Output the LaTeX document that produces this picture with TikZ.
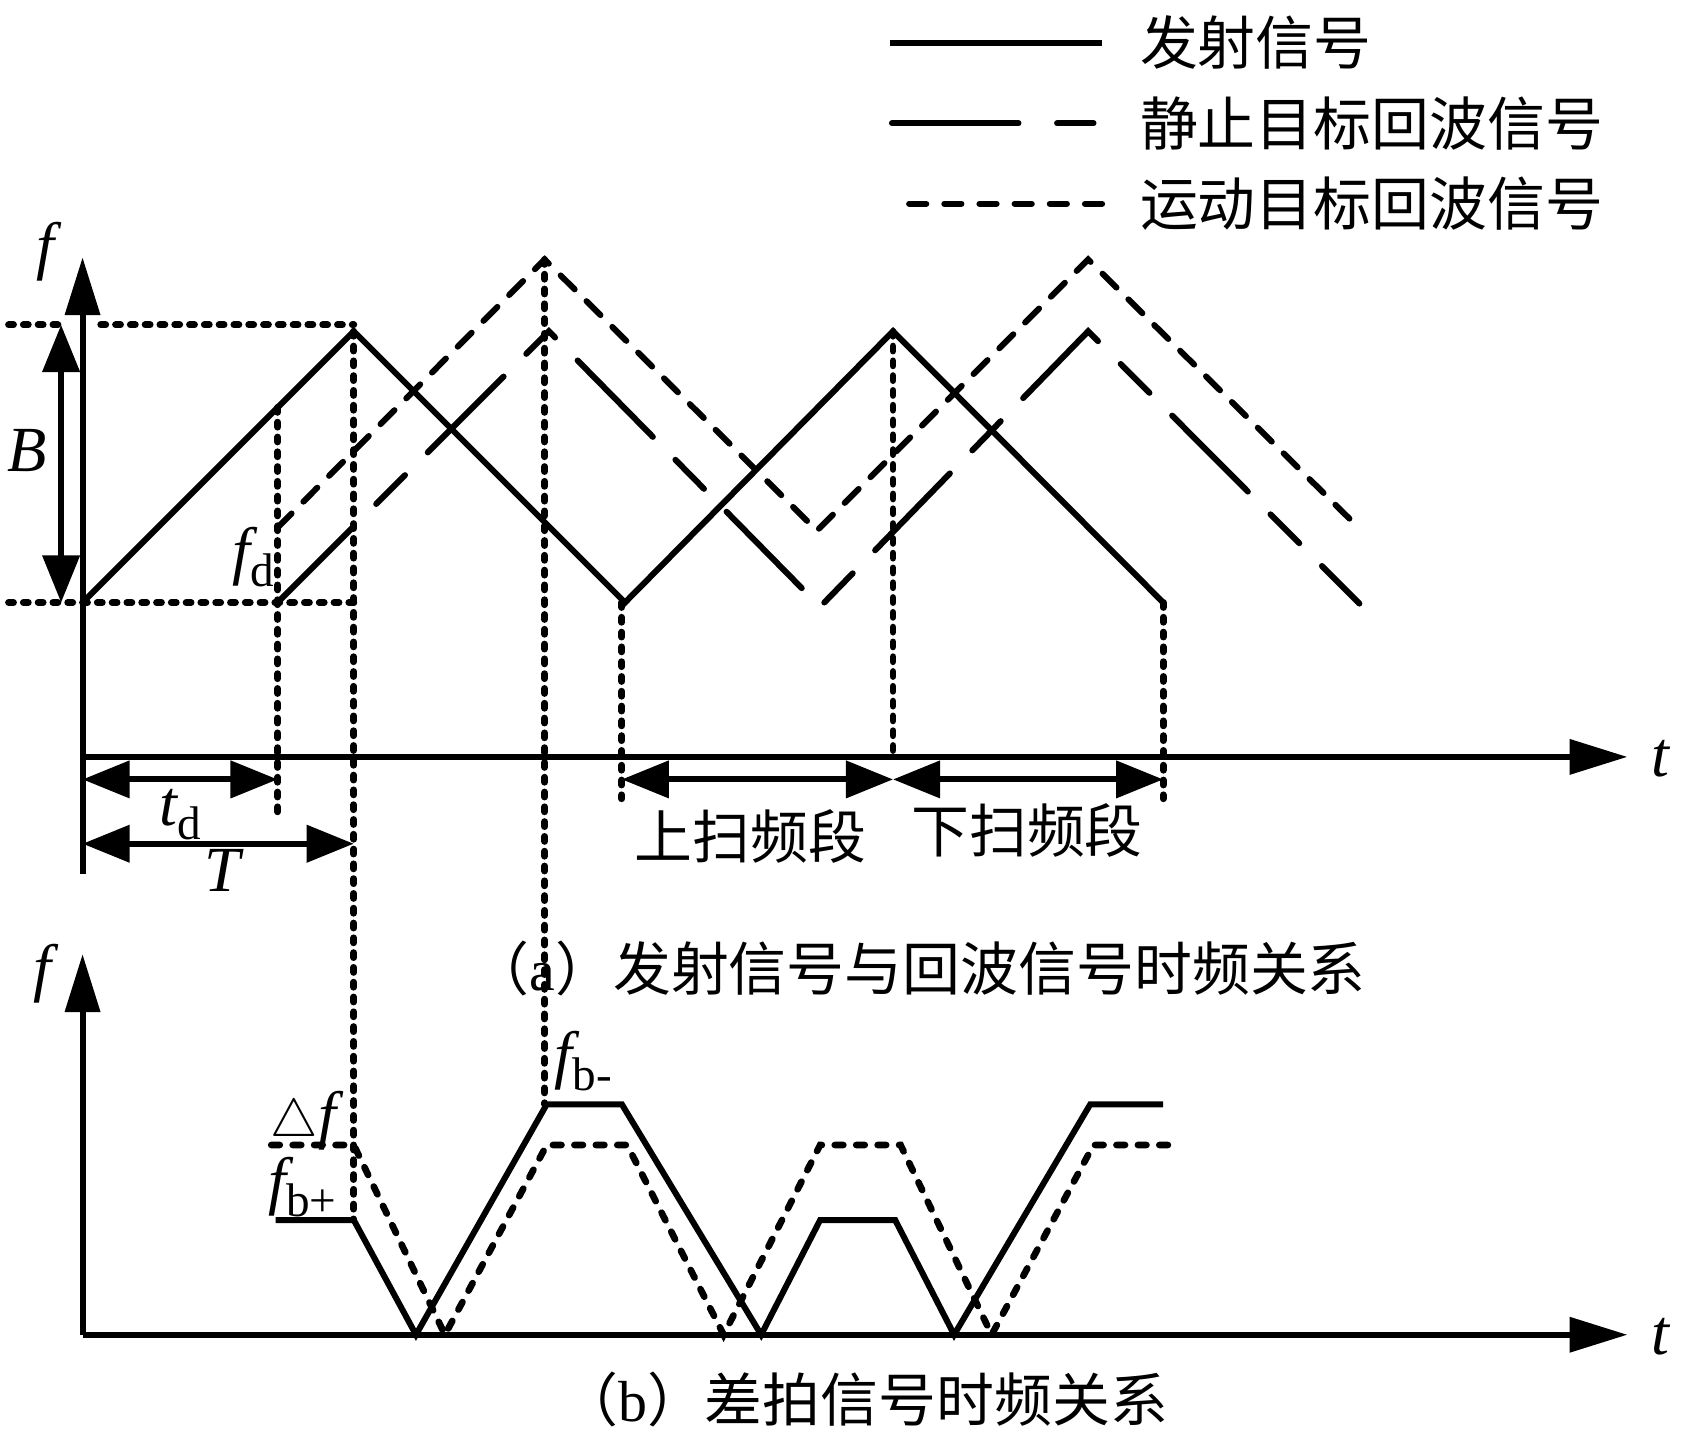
\documentclass[tikz,border=0pt]{standalone}
\usepackage{fontspec}
\setmainfont{Liberation Serif}
\newfontfamily\cjk{Noto Sans CJK SC}
\usetikzlibrary{arrows.meta}
\begin{document}
\begin{tikzpicture}[x=0.5pt,y=-0.5pt,
  lw/.style={line width=2.8pt},
  tx/.style={lw},
  staticecho/.style={lw, line cap=round, dash pattern=on 50pt off 15pt on 19pt off 15pt},
  movingecho/.style={lw, line cap=round, dash pattern=on 9.2pt off 7.8pt},
  guide/.style={line width=3.2pt, line cap=round, dash pattern=on 2.3pt off 4.6pt},
  beatdot/.style={line width=3.1pt, line cap=round, dash pattern=on 4pt off 6pt},
  ax/.style={line width=2.8pt, -{Triangle[length=27pt,width=16pt]}},
  dimarrow/.style={line width=2.8pt, {Triangle[length=22pt,width=17pt]}-{Triangle[length=22pt,width=17pt]}},
  lab/.style={font=\fontsize{30}{30}\selectfont\itshape, inner sep=0pt},
  cn/.style={font=\cjk\fontsize{27}{27}\selectfont, inner sep=0pt},
]
\useasboundingbox (0,0) rectangle (1568,1341);
\newcommand{\sbs}[1]{\raisebox{-0.22em}{\fontsize{22}{22}\selectfont\upshape #1}}

% ---------- legend ----------
\coordinate (la1) at (830,40);  \coordinate (lb1) at (1028,40);
\coordinate (la2) at (832,115); \coordinate (lb2) at (1024,115);
\coordinate (la3) at (848,190); \coordinate (lb3) at (1030,190);
\draw[tx] (la1) -- (lb1);
\draw[lw, line cap=round, dash pattern=on 59pt off 18pt on 17pt off 15pt] (la2) -- (lb2);
\draw[lw, line cap=round, dash pattern=on 8pt off 8.4pt] (la3) -- (lb3);
\node[cn, anchor=west] (lt1) at (1063,40) {发射信号};
\node[cn, anchor=west] (lt2) at (1063,115) {静止目标回波信号};
\node[cn, anchor=west] (lt3) at (1063,190) {运动目标回波信号};

% ---------- top plot: key points ----------
\coordinate (O1) at (77,562);
\coordinate (P1) at (330,309);
\coordinate (V1) at (583,562);
\coordinate (P2) at (833,309);
\coordinate (E1) at (1085,562);
\coordinate (S0) at (259,562);
\coordinate (SP1) at (512,309);
\coordinate (SV1) at (765,566);
\coordinate (SP2) at (1015,309);
\coordinate (SE) at (1268,563);
\coordinate (M0) at (259,492);
\coordinate (MP1) at (508,242);
\coordinate (MV1) at (762,495);
\coordinate (MP2) at (1015,242);
\coordinate (ME) at (1268,493);

% guides (dotted)
\draw[guide] (8,303) -- (60,303);
\draw[guide] (94,303) -- (330,303);
\draw[guide] (8,562) -- (330,562);
\draw[guide] (259,380) -- (259,765);
\draw[guide] (P1) -- (330,1138);
\draw[guide] (MP1) -- (508,1030);
\draw[guide] (580,562) -- (580,745);
\draw[guide] (P2) -- (833,706);
\draw[guide] (E1) -- (1085,745);

% signals
\draw[tx] (O1) -- (P1) -- (V1) -- (P2) -- (E1);
\draw[staticecho] (S0) -- (SP1) -- (SV1) -- (SP2) -- (SE);
\draw[movingecho] (M0) -- (MP1) -- (MV1) -- (MP2) -- (ME);

% axes
\coordinate (fa0) at (77,815); \coordinate (fa1) at (77,240);
\coordinate (ta0) at (77,706); \coordinate (ta1) at (1518,706);
\draw[ax] (fa0) -- (fa1);
\draw[ax] (ta0) -- (ta1);

% dimension arrows
\draw[dimarrow] (57,303) -- (57,562);
\draw[dimarrow] (77,727) -- (259,727);
\draw[dimarrow] (77,787) -- (330,787);
\draw[dimarrow] (580,727) -- (833,727);
\draw[dimarrow] (833,727) -- (1085,727);

% labels top
\node[lab] (lf1) at (42,235) {f};
\node[lab] (lB) at (25,420) {B};
\node[lab] (lfd) at (236,520) {f\sbs{d}};
\node[lab] (ltd) at (168,760) {t\sbs{d}};
\node[lab] (lT) at (207,812) {T};
\node[lab] (lt1) at (1549,708) {t};
\node[cn] (up) at (700,780) {上扫频段};
\node[cn] (down) at (958,775) {下扫频段};
\node[cn] (capa) at (857,903) {（{\rmfamily a}）发射信号与回波信号时频关系};

% ---------- bottom plot ----------
\coordinate (fb0) at (77,1245); \coordinate (fb1) at (77,890);
\coordinate (tb1) at (1518,1245);
\draw[ax] (fb0) -- (fb1);
\draw[ax] (fb0) -- (tb1);

\draw[lw, line join=miter] (257,1138) -- (330,1138) -- (388,1245) -- (510,1030) -- (580,1030)
  -- (710,1245) -- (765,1138) -- (835,1138) -- (890,1245) -- (1017,1030) -- (1085,1030);
\draw[beatdot] (253,1068) -- (330,1068) -- (415,1245) -- (510,1068) -- (585,1068)
  -- (675,1245) -- (765,1068) -- (840,1068) -- (925,1245) -- (1020,1068) -- (1095,1068);

\node[lab] (lf2) at (40,908) {f};
\node[lab] (lt2) at (1549,1247) {t};
\node[lab] (ldf) at (283,1045) {\upshape\fontsize{24}{24}\selectfont$\triangle$\itshape\fontsize{30}{30}\selectfont f};
\node[lab] (lfbp) at (282,1107) {f\sbs{b+}};
\node[lab] (lfbm) at (544,990) {f\sbs{b-}};
\node[cn] (capb) at (806,1305) {（{\rmfamily b}）差拍信号时频关系};
\end{tikzpicture}
\end{document}
